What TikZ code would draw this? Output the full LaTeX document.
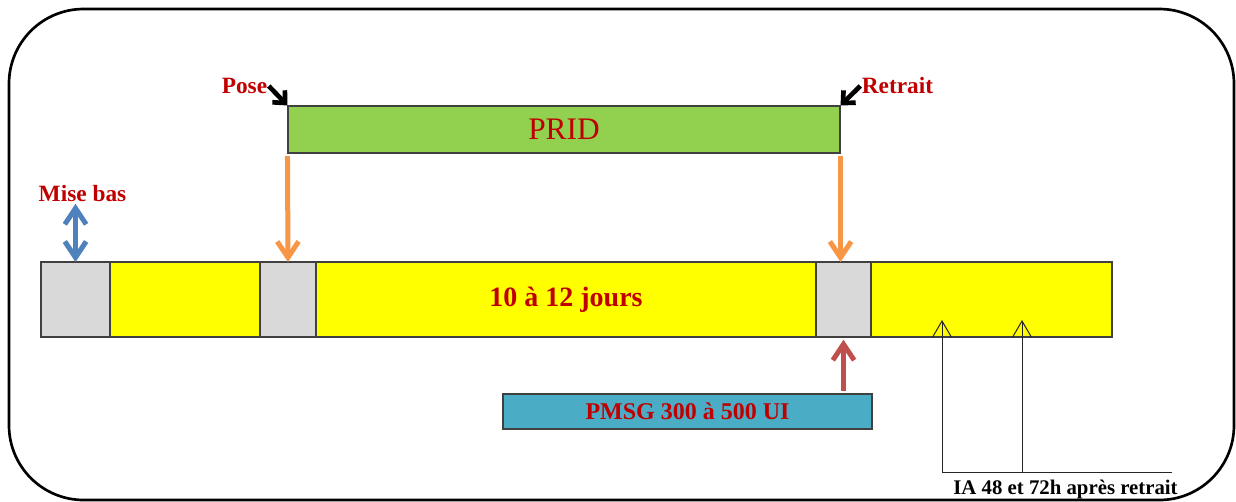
\documentclass[tikz,border=0pt]{standalone}
\usepackage{fontspec}
\setmainfont{Liberation Serif}
\usetikzlibrary{positioning, arrows.meta}
\definecolor{darkred}{HTML}{C00000}
\definecolor{phaseyellow}{HTML}{FFFF00}
\definecolor{pridgreen}{HTML}{92D050}
\definecolor{pmsgblue}{HTML}{4BACC6}
\definecolor{restgray}{HTML}{D9D9D9}
\definecolor{arroworange}{HTML}{F79646}
\definecolor{arrowblue}{HTML}{4F81BD}
\definecolor{arrowred}{HTML}{C0504D}
\tikzstyle{phase} = [rectangle,
minimum height=56.25pt,
inner sep=0pt,
outer sep=0pt,
draw=black!75,
line width=0.8pt,
fill=phaseyellow]
\tikzstyle{rest} = [phase, fill=restgray]
\tikzstyle{treatment} = [rectangle,
inner sep=0pt,
draw=black!75,
line width=0.8pt,
text=darkred]
\tikzstyle{event} = [inner sep=1pt, text=darkred, font=\bfseries\fontsize{17.5}{20}\selectfont]
\tikzstyle{fatarrow} = [line width=3.75pt, -{Straight Barb[length=12pt,width=16pt]}]
\tikzstyle{pointer} = [line width=3.5pt, -{Straight Barb[length=7pt,width=13pt]}]
\tikzstyle{iaarrow} = [line width=0.75pt, black!85, -{Straight Barb[length=12pt,width=14pt]}]

\begin{document}
\begin{tikzpicture}[x=0.75pt, y=-0.75pt]
  \useasboundingbox (0,0) rectangle (1236,501);
  \draw [line width=2pt, rounded corners=56pt] (9,9) rectangle (1234,500);

  % time line
  \node (gray1) [rest, minimum width=51.75pt] at (75.5,299.5) {};
  \node (yellow1) [phase, minimum width=112.5pt, right=0pt of gray1] {};
  \node (gray2) [rest, minimum width=42pt, right=0pt of yellow1] {};
  \node (yellow2) [phase, minimum width=375pt, right=0pt of gray2, text=darkred, font=\bfseries\fontsize{21}{24}\selectfont] {10 à 12 jours};
  \node (gray3) [rest, minimum width=41.25pt, right=0pt of yellow2] {};
  \node (yellow3) [phase, minimum width=180.75pt, right=0pt of gray3] {};

  \node (prid) [treatment, fill=pridgreen, minimum width=414pt, minimum height=35.25pt, font=\fontsize{23.5}{26}\selectfont] at (564,129.5) {PRID};
  \node (pmsg) [treatment, fill=pmsgblue, minimum width=276.75pt, minimum height=26.25pt, font=\bfseries\fontsize{18}{20}\selectfont] at (687.5,411.5) {PMSG 300 à 500 UI};

  \node (pose) [event] at (244.5,86) {Pose};
  \node (retrait) [event] at (897.5,86) {Retrait};
  \node (misebas) [event] at (82.5,194) {Mise bas};
  \node (ia) [inner sep=1pt, font=\bfseries\fontsize{15.6}{18}\selectfont] at (1065.5,489) {IA 48 et 72h après retrait};

  \coordinate (tip48) at (942,320);
  \coordinate (base48) at (942,472);
  \coordinate (tip72) at (1022,320);
  \coordinate (base72) at (1022,472);
  \coordinate (iaend) at (1172,472);

  \draw [pointer] (pose.east) -- (prid.north west);
  \draw [pointer] (retrait.west) -- (prid.north east);
  \draw [fatarrow, arroworange, shorten <=2pt] (prid.south west) -- (gray2.north);
  \draw [fatarrow, arroworange, shorten <=2pt] (prid.south east) -- (prid.south east |- gray3.north);
  \draw [line width=3.75pt, arrowblue, {Straight Barb[length=12pt,width=16pt]}-{Straight Barb[length=12pt,width=16pt]}] (gray1.north |- misebas.south) -- (gray1.north);
  \draw [fatarrow, arrowred, shorten <=2pt, shorten >=2pt] (gray3.south |- pmsg.north) -- (gray3.south);
  \draw [iaarrow] (base48) -- (tip48);
  \draw [iaarrow] (base72) -- (tip72);
  \draw [line width=0.75pt, black!85] (base48) -- (iaend);
\end{tikzpicture}
\end{document}
